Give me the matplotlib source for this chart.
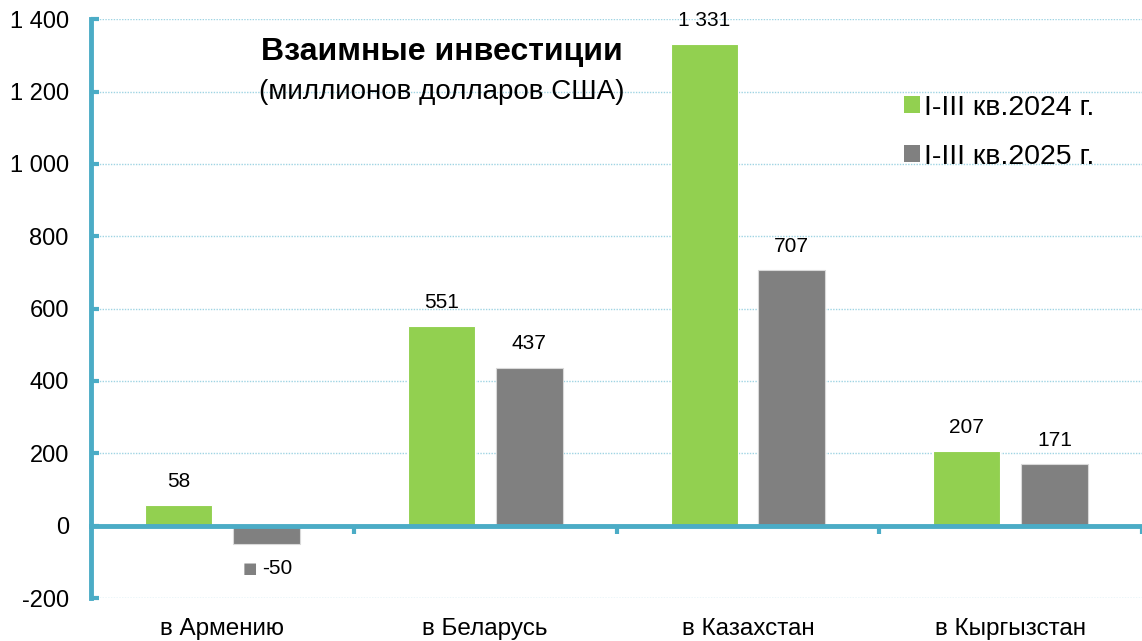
import matplotlib.pyplot as plt
from matplotlib.patches import Patch

plt.rcParams['font.family'] = ['Liberation Sans', 'DejaVu Sans']

# ====== Data ======
categories = ["в Армению", "в Беларусь", "в Казахстан", "в Кыргызстан"]
series_names = ["I-III кв.2024 г.", "I-III кв.2025 г."]
values_2024 = [58, 551, 1331, 207]
values_2025 = [-50, 437, 707, 171]
labels_2024 = ["58", "551", "1 331", "207"]
labels_2025 = ["-50", "437", "707", "171"]
yticks = [-200, 0, 200, 400, 600, 800, 1000, 1200, 1400]
ytick_labels = ["-200", "0", "200", "400", "600", "800", "1 000", "1 200", "1 400"]

green = "#92D050"
gray = "#808080"
teal = "#4BACC6"

fig = plt.figure(figsize=(11.42, 6.41), dpi=100)
ax = fig.add_axes([0.0797, 0.067, 0.9203, 0.903])

x = list(range(len(categories)))
w = 0.255
off = 0.167
ax.bar([i - off for i in x], values_2024, width=w, color=green,
       edgecolor="white", linewidth=0.8, zorder=3)
ax.bar([i + off for i in x], values_2025, width=w, color=gray,
       edgecolor="#d9d9d9", linewidth=0.8, zorder=3)

ax.set_xlim(-0.5, 3.5)
ax.set_ylim(-200, 1400)

# grid lines (dotted)
for t in yticks:
    if t != 0:
        ax.axhline(t, color="#9fd4e3", linewidth=1, linestyle=(0, (1, 1)), zorder=1)

# spines
for s in ["top", "right"]:
    ax.spines[s].set_visible(False)
ax.spines["left"].set_color(teal)
ax.spines["left"].set_linewidth(3.5)
ax.spines["left"].set_bounds(-200, 1400)
ax.spines["bottom"].set_position(("data", 0))
ax.spines["bottom"].set_color(teal)
ax.spines["bottom"].set_linewidth(3.5)
ax.spines["bottom"].set_zorder(4)

ax.set_yticks(yticks)
ax.set_yticklabels(ytick_labels, fontsize=17)
ax.tick_params(axis="y", direction="in", length=6, width=3, color=teal, pad=16)

ax.set_xticks([0.5, 1.5, 2.5, 3.5])
ax.set_xticklabels([])
ax.tick_params(axis="x", direction="out", length=6, width=3, color=teal)

# category labels at the bottom
for i, c in enumerate(categories):
    ax.text(i, -0.053, c, transform=ax.get_xaxis_transform(),
            ha="center", va="center", fontsize=17.5)

# data labels
for i, (v, lab) in enumerate(zip(values_2024, labels_2024)):
    ax.annotate(lab, (i - off, v), xytext=(0, 17), textcoords="offset points",
                ha="center", va="center", fontsize=15)
for i, (v, lab) in enumerate(zip(values_2025, labels_2025)):
    if v >= 0:
        ax.annotate(lab, (i + off, v), xytext=(0, 17), textcoords="offset points",
                    ha="center", va="center", fontsize=15)
    else:
        ax.annotate(lab, (i + off, v), xytext=(-3, -18), textcoords="offset points",
                    ha="left", va="center", fontsize=15)
        ax.annotate("■", (i + off, v), xytext=(-12, -18), textcoords="offset points",
                    ha="center", va="center", fontsize=11, color=gray,
                    family=["DejaVu Sans"])

# title
ax.text(0.334, 0.943, "Взаимные инвестиции", transform=ax.transAxes,
        ha="center", va="center", fontsize=23, fontweight="bold")
ax.text(0.334, 0.874, "(миллионов долларов США)", transform=ax.transAxes,
        ha="center", va="center", fontsize=20)

handles = [Patch(facecolor=green, edgecolor="none"),
           Patch(facecolor=gray, edgecolor="none")]
ax.legend(handles, series_names, loc="upper left", bbox_to_anchor=(0.76, 0.894),
          frameon=False, fontsize=20.5, handlelength=0.55, handleheight=0.55,
          handletextpad=0.15, labelspacing=0.8, borderpad=0)

fig.savefig("out.png", dpi=100)
